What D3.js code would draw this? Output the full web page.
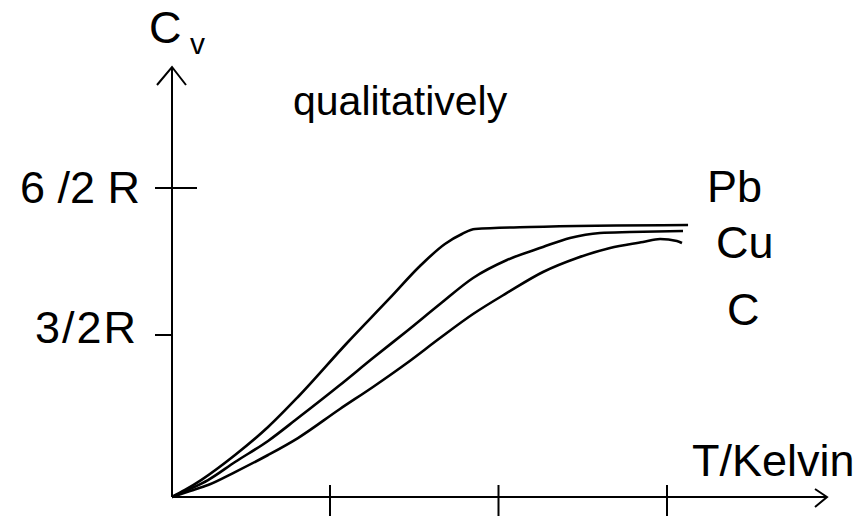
<!DOCTYPE html>
<html>
<head>
<meta charset="utf-8">
<script src="https://cdnjs.cloudflare.com/ajax/libs/d3/7.8.5/d3.min.js"></script>
<style>
    html, body { margin: 0; padding: 0; background: #fff; }
    svg { display: block; }
    text { font-family: "Liberation Sans", Arial, sans-serif; fill: #000; }
</style>
</head>
<body>
<svg id="chart"></svg>
<script>
// Temperature in units of the (unlabelled) x tick spacing, Cv in units of R
const xTicks = [1, 2, 3];
const yTicks = [1.5, 3];
const yTickLabels = ['3/2R', '6 /2 R'];

const seriesNames = ['Pb', 'Cu', 'C'];

const pbT  = [0, 0.082, 0.184, 0.399, 0.608, 0.797, 1.101, 1.356, 1.534, 1.682, 1.783, 1.861, 2.187, 3.125];
const pbCv = [0, 0.065, 0.157, 0.389, 0.648, 0.926, 1.426, 1.878, 2.204, 2.429, 2.531, 2.582, 2.602, 2.622];

const cuT  = [0, 0.114, 0.228, 0.399, 0.608, 0.797, 1.059, 1.255, 1.457, 1.653, 1.849, 2.05, 2.264, 2.424, 2.602, 2.78, 3.095];
const cuCv = [0, 0.074, 0.157, 0.324, 0.519, 0.731, 1.037, 1.287, 1.541, 1.816, 2.082, 2.265, 2.398, 2.49, 2.541, 2.551, 2.561];

const cT  = [0, 0.114, 0.228, 0.399, 0.608, 0.797, 1.059, 1.255, 1.457, 1.653, 1.849, 2.05, 2.264, 2.466, 2.662, 2.858, 2.959, 3.059, 3.089];
const cCv = [0, 0.056, 0.111, 0.231, 0.389, 0.546, 0.815, 1.019, 1.241, 1.472, 1.714, 1.929, 2.143, 2.286, 2.388, 2.449, 2.48, 2.459, 2.439];

class HeatCapacitySketch {
    constructor() {
        this.width = 867;
        this.height = 525;
        this.svg = d3.select('#chart')
            .attr('width', this.width)
            .attr('height', this.height);

        // hand drawn axes: ticks are not quite evenly spaced
        this.x = d3.scaleLinear().domain([0, 1, 3, 3.95]).range([172, 330, 667, 827]);
        this.y = d3.scaleLinear().domain([0, 1.5, 3, 4.35]).range([497, 335, 188, 67]);

        this.drawAxes();
        this.drawCurves();
        this.drawLabels();
    }

    drawAxes() {
        const g = this.svg.append('g')
            .attr('stroke', '#000')
            .attr('stroke-width', 2)
            .attr('fill', 'none');
        const x0 = this.x(0), y0 = this.y(0);
        const xEnd = this.x(3.95), yEnd = this.y(4.35);

        // axis lines
        g.append('line').attr('x1', x0).attr('y1', y0).attr('x2', xEnd).attr('y2', y0);
        g.append('line').attr('x1', x0).attr('y1', y0).attr('x2', x0).attr('y2', yEnd);

        // open arrow heads
        g.append('path').attr('d', `M${x0 - 15},${yEnd + 18}L${x0},${yEnd}L${x0 + 14},${yEnd + 18}`);
        g.append('path').attr('d', `M${xEnd - 12},${y0 - 8}L${xEnd},${y0}L${xEnd - 12},${y0 + 10}`);

        // x ticks hang mostly below the axis
        g.selectAll('.xtick')
            .data(xTicks)
            .enter()
            .append('line')
            .attr('x1', d => this.x(d))
            .attr('x2', d => this.x(d))
            .attr('y1', y0 - 12)
            .attr('y2', y0 + 19);

        // y ticks: upper one crosses the axis, lower one only on the left
        g.selectAll('.ytick')
            .data(yTicks)
            .enter()
            .append('line')
            .attr('x1', x0 - 17)
            .attr('x2', (d, i) => i === 1 ? x0 + 25 : x0)
            .attr('y1', d => this.y(d))
            .attr('y2', d => this.y(d));
    }

    drawCurves() {
        const curves = [
            { name: 'Pb', t: pbT, cv: pbCv },
            { name: 'Cu', t: cuT, cv: cuCv },
            { name: 'C', t: cT, cv: cCv }
        ];

        const line = d3.line()
            .x(d => this.x(d[0]))
            .y(d => this.y(d[1]))
            .curve(d3.curveMonotoneX);

        this.svg.append('g')
            .selectAll('path')
            .data(curves)
            .enter()
            .append('path')
            .attr('fill', 'none')
            .attr('stroke', '#000')
            .attr('stroke-width', 2.6)
            .attr('stroke-linejoin', 'round')
            .attr('d', d => line(d.t.map((t, i) => [t, d.cv[i]])));
    }

    drawLabels() {
        const label = (x, y, text, size) => this.svg.append('text')
            .attr('x', x)
            .attr('y', y)
            .attr('font-size', size)
            .text(text);

        // y axis title with subscript
        label(149, 43, 'C', 45);
        label(190, 54, 'v', 30);

        label(293, 115, 'qualitatively', 41);

        // tick labels
        label(20, 203, yTickLabels[1], 45);
        label(35, 343, yTickLabels[0], 45).attr('letter-spacing', 2);

        // series names, stacked at the right end
        label(707, 202, seriesNames[0], 45);
        label(716, 258, seriesNames[1], 45);
        label(727, 325, seriesNames[2], 45);

        label(692, 476, 'T/Kelvin', 45);
    }
}

document.addEventListener('DOMContentLoaded', () => {
    new HeatCapacitySketch();
});
</script>
</body>
</html>
